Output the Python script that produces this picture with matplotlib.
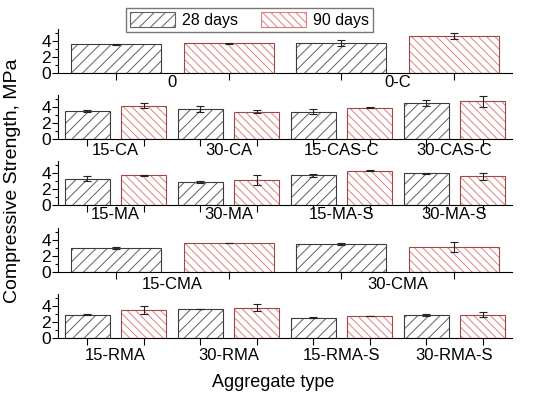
import numpy as np
import matplotlib
matplotlib.use("Agg")
import matplotlib.pyplot as plt
from matplotlib.patches import Patch

plt.rcParams['font.family'] = ['Liberation Sans', 'DejaVu Sans']
plt.rcParams['hatch.linewidth'] = 0.7

# one list per panel, top to bottom
groups = [
    ["0", "0-C"],
    ["15-CA", "30-CA", "15-CAS-C", "30-CAS-C"],
    ["15-MA", "30-MA", "15-MA-S", "30-MA-S"],
    ["15-CMA", "30-CMA"],
    ["15-RMA", "30-RMA", "15-RMA-S", "30-RMA-S"],
]
d28 = [
    [3.57, 3.7],
    [3.5, 3.8, 3.43, 4.5],
    [3.33, 2.93, 3.73, 3.96],
    [3.0, 3.5],
    [2.93, 3.66, 2.57, 2.93],
]
d90 = [
    [3.7, 4.56],
    [4.17, 3.43, 3.93, 4.7],
    [3.73, 3.1, 4.3, 3.6],
    [3.63, 3.17],
    [3.58, 3.83, 2.77, 2.93],
]
e28 = [
    [0.08, 0.4],
    [0.1, 0.37, 0.33, 0.37],
    [0.3, 0.15, 0.15, 0.05],
    [0.12, 0.1],
    [0.05, 0.05, 0.03, 0.12],
]
e90 = [
    [0.08, 0.37],
    [0.3, 0.15, 0.05, 0.72],
    [0.05, 0.62, 0.05, 0.4],
    [0.05, 0.65],
    [0.5, 0.39, 0.04, 0.3],
]

gray_hatch = "#606060"
gray_edge = "#3c3c3c"
red_hatch = "#e28080"
red_edge = "#a04848"
hatch28 = "///"
hatch90 = "\\" * 4

fig = plt.figure(figsize=(5.5, 3.96), dpi=100)
bottoms = [0.816, 0.649, 0.482, 0.313, 0.146]
pads = [1.5, 3.0, 1.5, 3.5, 7.0]

for i, names in enumerate(groups):
    ax = fig.add_axes([0.105, bottoms[i], 0.826, 0.111])
    n = len(names)
    x28 = np.arange(n) * 2
    x90 = x28 + 1
    # hatched fill, then outline on top
    ax.bar(x28, d28[i], 0.8, color="white", hatch=hatch28, edgecolor=gray_hatch, linewidth=0)
    ax.bar(x90, d90[i], 0.8, color="white", hatch=hatch90, edgecolor=red_hatch, linewidth=0)
    ax.bar(x28, d28[i], 0.8, fill=False, edgecolor=gray_edge, linewidth=0.8)
    ax.bar(x90, d90[i], 0.8, fill=False, edgecolor=red_edge, linewidth=0.8)
    ax.errorbar(x28, d28[i], yerr=e28[i], fmt="none", ecolor="#222222", elinewidth=0.8, capsize=3, capthick=0.8)
    ax.errorbar(x90, d90[i], yerr=e90[i], fmt="none", ecolor="#222222", elinewidth=0.8, capsize=3, capthick=0.8)

    ax.set_xlim(-0.52, 2 * n - 0.48)
    ax.set_ylim(0, 5.5)
    ax.set_yticks([0, 2, 4])
    ax.set_yticks([1, 3, 5], minor=True)
    ax.tick_params(axis="y", which="major", direction="out", length=4, width=0.8, labelsize=12.5, pad=1)
    ax.tick_params(axis="y", which="minor", direction="out", length=2, width=0.8)

    # bar ticks as minor, group names as major labels without tick marks
    ax.set_xticks(x28 + 0.5)
    ax.set_xticklabels(names)
    ax.set_xticks(np.concatenate([x28, x90]), minor=True)
    ax.tick_params(axis="x", which="major", length=0, labelsize=12, pad=pads[i])
    ax.tick_params(axis="x", which="minor", direction="out", length=5, width=0.8)

    for s in ["top", "right"]:
        ax.spines[s].set_visible(False)
    ax.spines["left"].set_linewidth(0.8)
    ax.spines["bottom"].set_linewidth(0.8)

fig.text(0.022, 0.543, "Compressive Strength, MPa", rotation=90, ha="center", va="center", fontsize=14)
fig.text(0.496, 0.035, "Aggregate type", ha="center", va="center", fontsize=13)

handles = [
    Patch(facecolor="white", hatch=hatch28, edgecolor=gray_hatch, linewidth=0.8, label="28 days"),
    Patch(facecolor="white", hatch=hatch90, edgecolor=red_hatch, linewidth=0.8, label="90 days"),
]
fig.legend(handles=handles, loc="center", bbox_to_anchor=(0.4536, 0.949), ncol=2, fontsize=11.5,
           frameon=True, fancybox=False, edgecolor="#555555", handlelength=2.8, handleheight=1.0,
           columnspacing=1.5, handletextpad=0.4, borderpad=0.25, borderaxespad=0)

fig.savefig("out.png", dpi=100)
